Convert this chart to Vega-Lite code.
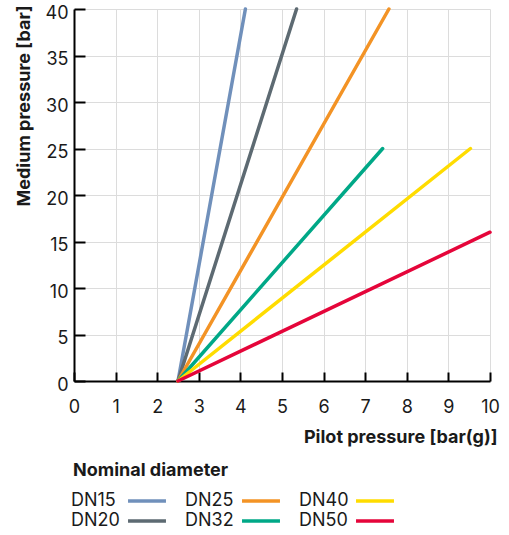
{
  "$schema": "https://vega.github.io/schema/vega-lite/v6.json",
  "width": 416,
  "height": 372,
  "autosize": {"type": "none"},
  "padding": {"left": 74, "top": 9, "right": 19, "bottom": 154},
  "background": "white",
  "config": {
    "font": "Inter",
    "view": {"stroke": null},
    "axis": {
      "labelFont": "Inter", "titleFont": "Inter", "labelFontSize": 18, "titleFontSize": 18,
      "labelColor": "#1a1a1a", "titleColor": "#1a1a1a", "titleFontWeight": "bold",
      "domainColor": "#000000", "domainWidth": 2, "tickColor": "#000000", "tickWidth": 2,
      "gridColor": "#dcdcdc", "gridWidth": 1
    }
  },
  "data": {
    "values": [
      {"diameter": "DN15", "pilot": 2.5, "medium": 0},
      {"diameter": "DN15", "pilot": 4.12, "medium": 40},
      {"diameter": "DN20", "pilot": 2.5, "medium": 0},
      {"diameter": "DN20", "pilot": 5.35, "medium": 40},
      {"diameter": "DN25", "pilot": 2.5, "medium": 0},
      {"diameter": "DN25", "pilot": 7.57, "medium": 40},
      {"diameter": "DN32", "pilot": 2.5, "medium": 0},
      {"diameter": "DN32", "pilot": 7.42, "medium": 25},
      {"diameter": "DN40", "pilot": 2.5, "medium": 0},
      {"diameter": "DN40", "pilot": 9.53, "medium": 25},
      {"diameter": "DN50", "pilot": 2.5, "medium": 0},
      {"diameter": "DN50", "pilot": 10, "medium": 16}
    ]
  },
  "mark": {"type": "line", "strokeWidth": 3.5, "strokeCap": "round", "clip": false},
  "encoding": {
    "x": {
      "field": "pilot", "type": "quantitative",
      "scale": {"domain": [0, 10], "nice": false},
      "axis": {"title": "Pilot pressure [bar(g)]", "values": [0,1,2,3,4,5,6,7,8,9,10], "tickSize": -9, "labelPadding": 26, "titleAnchor": "end", "titleX": 423, "titlePadding": 12, "labelFlush": false}
    },
    "y": {
      "field": "medium", "type": "quantitative",
      "scale": {"domain": [0, 40], "nice": false},
      "axis": {"title": "Medium pressure [bar]", "values": [0,5,10,15,20,25,30,35,40], "tickSize": -11, "labelPadding": 17, "labelOffset": 4, "titleAnchor": "end", "titleY": -4, "titlePadding": 12, "labelFlush": false}
    },
    "color": {
      "field": "diameter", "type": "nominal",
      "scale": {
        "domain": ["DN15", "DN25", "DN40", "DN20", "DN32", "DN50"],
        "range": ["#7090bb", "#f39325", "#ffdc00", "#5d6a72", "#00a887", "#e5053a"]
      },
      "legend": {
        "title": "Nominal diameter", "orient": "none", "legendX": -1, "legendY": 453,
        "columns": 3, "direction": "horizontal",
        "titleFontSize": 18, "titleFontWeight": "bold", "titleColor": "#1a1a1a", "titleFont": "Inter",
        "labelFontSize": 18, "labelColor": "#1a1a1a", "labelFont": "Inter",
        "symbolType": "M-4,0H4", "symbolSize": 90, "symbolStrokeWidth": 3.5,
        "labelAlign": "left", "labelOffset": -85, "symbolOffset": 65,
        "columnPadding": 12, "rowPadding": 2, "titlePadding": 12
      }
    }
  }
}
